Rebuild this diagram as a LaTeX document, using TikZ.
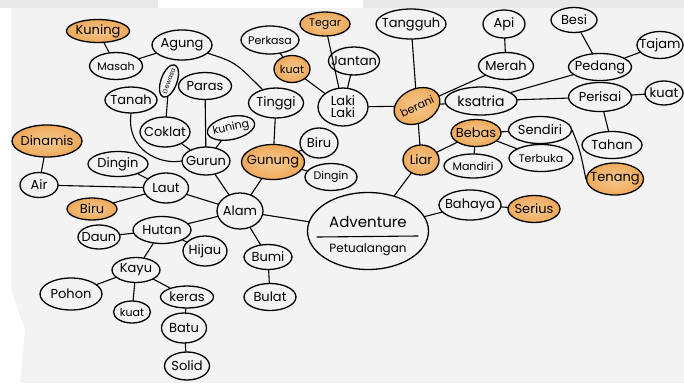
\documentclass[tikz,border=0pt]{standalone}
\usepackage{fontspec}
\setmainfont{Poppins}
\usetikzlibrary{shapes.geometric}
\definecolor{paper}{HTML}{F3F3F3}
\definecolor{orng}{HTML}{EEA95A}
\definecolor{orngl}{HTML}{F6C98E}
\definecolor{strip}{HTML}{E9E9E9}
\begin{document}
\begin{tikzpicture}[x=1pt,y=-1pt,
  bub/.style={draw=black, ellipse, line width=1.3pt, fill=paper, inner xsep=-10pt, inner ysep=-4pt,
              font=\fontsize{13}{14}\selectfont},
  org/.style={bub, inner color=orngl, outer color=orng},
  sz/.style 2 args={minimum width=#1pt, minimum height=#2pt},
  small/.style={font=\fontsize{11}{12}\selectfont},
  con/.style={line width=1.1pt, line cap=round},
  lbl/.style={inner sep=0pt}]
\useasboundingbox (0,0) rectangle (684,383);
% background
\fill[paper] (0,0) rectangle (684,383);
\fill[strip] (0,0) rectangle (684,8);
\fill[white] (158,0) rectangle (363,8);
\fill[white] (0,8) -- (11,8) -- (11,290) -- (25,330) -- (20,383) -- (0,383) -- cycle;

% nodes
\node[org,sz={63}{23}] (kuning1) at (98,31) {Kuning};
\node[bub,sz={53}{27},small] (masah) at (116,66) {Masah};
\node[bub,sz={60}{30}] (agung) at (182,45) {Agung};
\node[bub,sz={34}{16},rotate=70,font=\fontsize{6.5}{7}\selectfont,inner xsep=-5pt] (dewasa) at (169,81) {Dewasa};
\node[bub,sz={53}{27}] (paras) at (205,86) {Paras};
\node[bub,sz={52}{26}] (tanah) at (131,100) {Tanah};
\node[bub,sz={50}{30}] (coklat) at (165,132) {Coklat};
\node[bub,sz={48}{23},rotate=12,small] (kuning2) at (231,128) {kuning};
\node[bub,sz={48}{28}] (gurun) at (206,161) {Gurun};
\node[bub,sz={55}{30}] (tinggi) at (276,103) {Tinggi};
\node[bub,sz={58}{28},small] (perkasa) at (270,40) {Perkasa};
\node[org,sz={36}{27},small] (kuat1) at (292,69) {kuat};
\node[org,sz={50}{24},small] (tegar) at (325,24) {Tegar};
\node[bub,sz={51}{28}] (jantan) at (354,61) {Jantan};
\node[bub,sz={50}{38},align=center,font=\fontsize{13}{12}\selectfont] (laki) at (343,107) {Laki\\Laki};
\node[bub,sz={70}{30}] (tangguh) at (411,24) {Tangguh};
\node[org,sz={48}{34},rotate=25,small] (berani) at (417,106) {berani};
\node[bub,sz={42}{28}] (api) at (504,24) {Api};
\node[bub,sz={55}{27}] (merah) at (506,66) {Merah};
\node[bub,sz={46}{25}] (besi) at (574,20) {Besi};
\node[bub,sz={63}{27}] (pedang) at (600,67) {Pedang};
\node[bub,sz={46}{27}] (tajam) at (660,45) {Tajam};
\node[bub,sz={63}{29}] (perisai) at (600,97) {Perisai};
\node[bub,sz={38}{24}] (kuat2) at (664,93) {kuat};
\node[bub,sz={72}{28},font=\fontsize{14}{15}\selectfont] (ksatria) at (481,101) {ksatria};
\node[org,sz={50}{27}] (bebas) at (476,133) {Bebas};
\node[bub,sz={63}{27}] (sendiri) at (540,130) {Sendiri};
\node[bub,sz={64}{27},small] (terbuka) at (541,158) {Terbuka};
\node[bub,sz={58}{24},small] (mandiri) at (473,166) {Mandiri};
\node[bub,sz={60}{27}] (tahan) at (612,145) {Tahan};
\node[org,sz={57}{32}] (tenang) at (615,179) {Tenang};
\node[bub,sz={62}{30}] (bahaya) at (470,205) {Bahaya};
\node[org,sz={52}{27}] (serius) at (534,209) {Serius};
\node[org,sz={36}{30}] (liar) at (421,160) {Liar};
\node[bub,sz={121}{77}] (adv) at (368,231) {};
\node[lbl,font=\fontsize{15}{16}\selectfont] (advt) at (368,222) {Adventure};
\node[lbl,font=\fontsize{12}{13}\selectfont] (petu) at (368,250) {Petualangan};
\coordinate (ul1) at (317,237);
\coordinate (ul2) at (418,236);
\node[org,sz={63}{35}] (gunung) at (273,162) {Gunung};
\node[bub,sz={38}{30}] (biru1) at (319,143) {Biru};
\node[bub,sz={52}{27},small] (dingin1) at (331,177) {Dingin};
\node[bub,sz={46}{36}] (alam) at (240,211) {Alam};
\node[org,sz={70}{32}] (dinamis) at (47,141) {Dinamis};
\node[bub,sz={38}{25}] (air) at (39,185) {Air};
\node[bub,sz={60}{25}] (dingin2) at (118,164) {Dingin};
\node[bub,sz={45}{30}] (laut) at (166,188) {Laut};
\node[org,sz={50}{22}] (biru2) at (92,209) {Biru};
\node[bub,sz={58}{27}] (hutan) at (162,230) {Hutan};
\node[bub,sz={42}{24}] (daun) at (99,237) {Daun};
\node[bub,sz={44}{30}] (hijau) at (205,251) {Hijau};
\node[bub,sz={48}{25}] (kayu) at (136,270) {Kayu};
\node[bub,sz={62}{32}] (pohon) at (71,294) {Pohon};
\node[bub,sz={37}{22},small] (kuat3) at (132,312) {kuat};
\node[bub,sz={53}{22}] (keras) at (187,297) {keras};
\node[bub,sz={45}{30}] (batu) at (184,328) {Batu};
\node[bub,sz={45}{28}] (solid) at (187,366) {Solid};
\node[bub,sz={48}{25}] (bumi) at (268,257) {Bumi};
\node[bub,sz={52}{27}] (bulat) at (270,297) {Bulat};

% connectors
\draw[con] (kuning1) -- (masah);
\draw[con] (masah) -- (agung);
\draw[con] (agung) .. controls (235,62) .. (tinggi);
\draw[con] (dewasa) -- (coklat);
\draw[con] (tanah.south) .. controls (126,150) and (160,165) .. (gurun.west);
\draw[con] (coklat) -- (gurun);
\draw[con] (paras) -- (gurun);
\draw[con] (kuning2) -- (gurun);
\draw[con] (gurun) -- (alam);
\draw[con] (tinggi) -- (gunung);
\draw[con] (perkasa) -- (kuat1);
\draw[con] (kuat1) -- (laki);
\draw[con] (tegar) -- (laki);
\draw[con] (jantan) -- (laki);
\draw[con] (laki) -- (berani);
\draw[con] (tangguh) -- (berani);
\draw[con] (berani) -- (merah);
\draw[con] (berani) -- (ksatria);
\draw[con] (berani) -- (liar);
\draw[con] (api) -- (merah);
\draw[con] (ksatria) -- (pedang);
\draw[con] (ksatria) -- (perisai);
\draw[con] (besi) -- (pedang);
\draw[con] (pedang) -- (tajam);
\draw[con] (perisai) -- (kuat2);
\draw[con] (perisai) -- (tahan);
\draw[con] (liar) -- (bebas);
\draw[con] (liar) -- (adv);
\draw[con] (bebas) -- (sendiri);
\draw[con] (bebas) -- (terbuka);
\draw[con] (bebas) -- (mandiri);
\draw[con] (sendiri.east) .. controls (580,150) .. (tenang.west);
\draw[con] (adv) -- (bahaya);
\draw[con] (bahaya) -- (serius);
\draw[con] (adv) -- (alam);
\draw[con] (ul1) -- (ul2);
\draw[con] (alam) -- (gunung);
\draw[con] (gunung) -- (biru1);
\draw[con] (gunung) -- (dingin1);
\draw[con] (alam) -- (laut);
\draw[con] (laut) -- (dingin2);
\draw[con] (laut) -- (air);
\draw[con] (laut) -- (biru2);
\draw[con] (air) -- (dinamis);
\draw[con] (alam) -- (hutan);
\draw[con] (hutan) -- (daun);
\draw[con] (hutan) -- (hijau);
\draw[con] (hutan) -- (kayu);
\draw[con] (kayu) -- (pohon);
\draw[con] (kayu) -- (kuat3);
\draw[con] (kayu) -- (keras);
\draw[con] (keras) -- (batu);
\draw[con] (batu) -- (solid);
\draw[con] (alam) -- (bumi);
\draw[con] (bumi) -- (bulat);
\end{tikzpicture}
\end{document}
